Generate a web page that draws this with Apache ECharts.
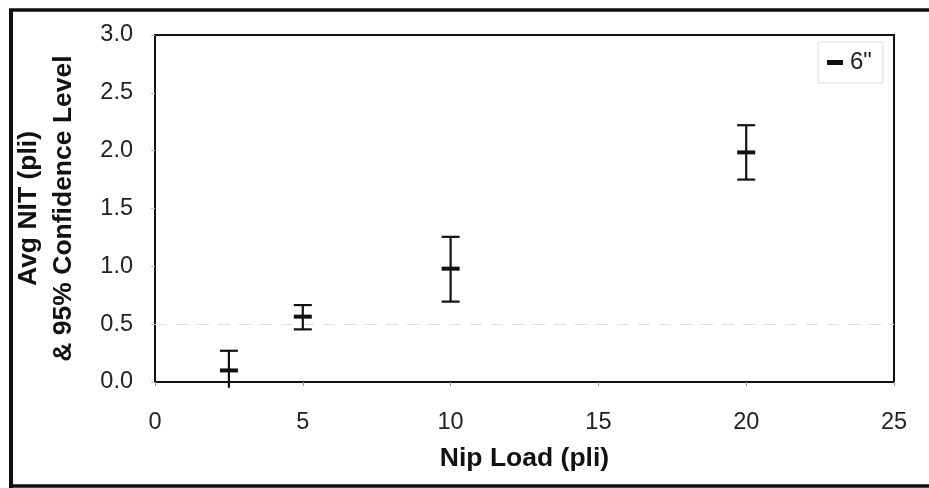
<!DOCTYPE html>
<html>
<head>
<meta charset="utf-8">
<script src="https://cdn.jsdelivr.net/npm/echarts@6/dist/echarts.min.js"></script>
<style>
  html, body { margin: 0; padding: 0; background: #ffffff; }
  #chart { width: 929px; height: 488px; }
</style>
</head>
<body>
<div id="chart"></div>
<script>
// Nip load (pli) and average NIT with its 95% confidence interval
const nipLoad = [2.5, 5, 10, 20];
const avgNIT = [0.10, 0.565, 0.98, 1.985];
const ciLower = [-0.05, 0.455, 0.695, 1.75];
const ciUpper = [0.27, 0.665, 1.255, 2.22];
const seriesName = '6"';
const xTicks = [0, 5, 10, 15, 20, 25];
const yTicks = [0, 0.5, 1.0, 1.5, 2.0, 2.5, 3.0];
const refLevels = [0.5];

const FONT = '"Liberation Sans", Arial, sans-serif';
const rows = nipLoad.map((x, i) => [x, avgNIT[i], ciLower[i], ciUpper[i]]);

const chart = echarts.init(document.getElementById('chart'), null, { renderer: 'canvas' });

function renderErrorBar(params, api) {
  const x = api.value(0), m = api.value(1), lo = api.value(2), hi = api.value(3);
  const pc = api.coord([x, m]);
  const pl = api.coord([x, lo]);
  const ph = api.coord([x, hi]);
  const capW = 18;
  const stroke = { stroke: '#111', lineWidth: 2.2 };
  const children = [
    { type: 'line', shape: { x1: pc[0], y1: ph[1], x2: pc[0], y2: pl[1] }, style: stroke },
    { type: 'line', shape: { x1: pc[0] - capW / 2, y1: ph[1], x2: pc[0] + capW / 2, y2: ph[1] }, style: stroke },
    { type: 'rect', shape: { x: pc[0] - capW / 2, y: pc[1] - 2, width: capW, height: 4 }, style: { fill: '#111' } }
  ];
  // caps are only drawn for bounds inside the value range
  if (lo >= yTicks[0]) {
    children.push({ type: 'line', shape: { x1: pc[0] - capW / 2, y1: pl[1], x2: pc[0] + capW / 2, y2: pl[1] }, style: stroke });
  }
  return { type: 'group', children };
}

chart.setOption({
  animation: false,
  backgroundColor: '#ffffff',
  grid: {
    left: 155, top: 35, right: 35, bottom: 106,
    show: true, borderColor: '#111', borderWidth: 2, backgroundColor: 'transparent'
  },
  legend: {
    show: true,
    left: 818, top: 42,
    padding: [8, 11, 8, 9],
    borderColor: '#dcdcdc', borderWidth: 1,
    icon: 'rect', itemWidth: 16, itemHeight: 5, itemGap: 0,
    textStyle: { fontFamily: FONT, fontSize: 24, color: '#222', padding: [0, 0, 0, 2], lineHeight: 25 },
    data: [seriesName]
  },
  xAxis: {
    type: 'value',
    min: xTicks[0], max: xTicks[xTicks.length - 1], interval: 5,
    name: 'Nip Load (pli)',
    nameLocation: 'middle', nameGap: 63,
    nameTextStyle: { fontFamily: FONT, fontSize: 26.5, fontWeight: 'bold', color: '#111' },
    axisLine: { show: true, onZero: false, lineStyle: { color: '#111', width: 2 } },
    axisTick: { show: true, length: 4, lineStyle: { color: '#999', width: 1 } },
    axisLabel: { fontFamily: FONT, fontSize: 23.5, color: '#222', margin: 29 },
    splitLine: { show: false }
  },
  yAxis: {
    type: 'value',
    min: yTicks[0], max: yTicks[yTicks.length - 1], interval: 0.5,
    name: 'Avg NIT (pli)\n& 95% Confidence Level',
    nameLocation: 'middle', nameGap: 74, nameRotate: 90,
    nameTextStyle: { fontFamily: FONT, fontSize: 26.5, fontWeight: 'bold', color: '#111', lineHeight: 35 },
    axisLine: { show: true, lineStyle: { color: '#111', width: 2 } },
    axisTick: { show: true, length: 4, lineStyle: { color: '#bbb', width: 1 } },
    axisLabel: { fontFamily: FONT, fontSize: 23.5, color: '#222', margin: 22, formatter: v => v.toFixed(1) },
    splitLine: { show: false }
  },
  series: [{
    name: seriesName,
    type: 'custom',
    renderItem: renderErrorBar,
    itemStyle: { color: '#111' },
    encode: { x: 0, y: [1, 2, 3] },
    data: rows,
    z: 5,
    markLine: {
      silent: true, symbol: 'none', label: { show: false },
      lineStyle: { color: '#dedede', type: [12, 9], width: 1 },
      data: refLevels.map(v => ({ yAxis: v }))
    }
  }],
  graphic: [
    { type: 'line', shape: { x1: 9, y1: 10, x2: 929, y2: 10 }, style: { stroke: '#111', lineWidth: 3.5 } },
    { type: 'line', shape: { x1: 11, y1: 9, x2: 11, y2: 488 }, style: { stroke: '#111', lineWidth: 4 } },
    { type: 'line', shape: { x1: 9, y1: 486, x2: 929, y2: 486 }, style: { stroke: '#111', lineWidth: 3.5 } }
  ]
});
</script>
</body>
</html>
